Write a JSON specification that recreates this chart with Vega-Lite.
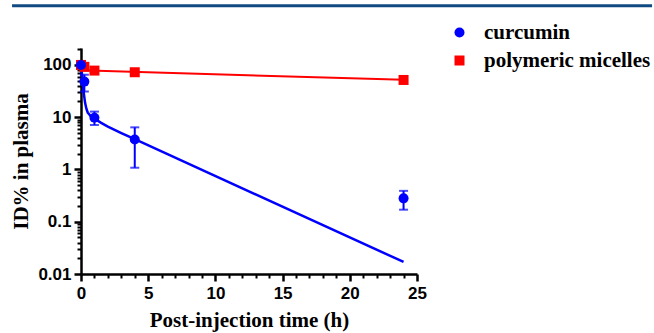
{
  "$schema": "https://vega.github.io/schema/vega-lite/v6.json",
  "width": 336,
  "height": 226,
  "autosize": "none",
  "padding": {"left": 81, "top": 48, "right": 237, "bottom": 59},
  "background": "white",
  "config": {"view": {"stroke": null}, "axis": {"grid": false}, "scale": {"continuousPadding": 0}},
  "datasets": {
    "header": [{"x1": -5.13, "x2": 42.49, "y": 1361}],
    "points": [
      {"t": 0, "v": 100, "series": "polymeric micelles"},
      {"t": 0.25, "v": 92, "series": "polymeric micelles"},
      {"t": 1, "v": 78, "series": "polymeric micelles"},
      {"t": 4, "v": 72.5, "series": "polymeric micelles"},
      {"t": 24, "v": 51.6, "series": "polymeric micelles"},
      {"t": 0, "v": 100, "series": "curcumin"},
      {"t": 0.25, "v": 48, "series": "curcumin"},
      {"t": 1, "v": 9.8, "series": "curcumin"},
      {"t": 4, "v": 3.75, "series": "curcumin"},
      {"t": 24, "v": 0.28, "series": "curcumin"}
    ],
    "errors": [
      {"t": 0.25, "lo": 31, "hi": 65},
      {"t": 1, "lo": 7.1, "hi": 12.8},
      {"t": 4, "lo": 1.08, "hi": 6.4},
      {"t": 24, "lo": 0.17, "hi": 0.39}
    ],
    "bluefit": [
      {"t": 0, "v": 100},
      {"t": 0.05, "v": 75},
      {"t": 0.1, "v": 55},
      {"t": 0.15, "v": 40},
      {"t": 0.2, "v": 30},
      {"t": 0.3, "v": 19},
      {"t": 0.4, "v": 14.5},
      {"t": 0.5, "v": 12.3},
      {"t": 0.75, "v": 10.3},
      {"t": 1, "v": 9.4},
      {"t": 1.5, "v": 7.8},
      {"t": 2, "v": 6.6},
      {"t": 3, "v": 4.97},
      {"t": 4, "v": 3.8},
      {"t": 24, "v": 0.017}
    ],
    "redfit": [
      {"t": 0, "v": 79},
      {"t": 24, "v": 52}
    ]
  },
  "layer": [
    {
      "data": {"name": "header"},
      "mark": {"type": "rule", "color": "#114a82", "strokeWidth": 3, "clip": false},
      "encoding": {
        "x": {"field": "x1", "type": "quantitative", "scale": {"domain": [0, 25], "padding": 0}, "axis": null},
        "x2": {"field": "x2"},
        "y": {"field": "y", "type": "quantitative", "scale": {"type": "log", "domain": [0.01, 211], "padding": 0}, "axis": null}
      }
    },
    {
      "data": {"name": "redfit"},
      "mark": {"type": "line", "color": "#ff0000", "strokeWidth": 2},
      "encoding": {
        "x": {"field": "t", "type": "quantitative", "scale": {"domain": [0, 25], "padding": 0}, "axis": null},
        "y": {"field": "v", "type": "quantitative", "scale": {"type": "log", "domain": [0.01, 211], "padding": 0}, "axis": null}
      }
    },
    {
      "data": {"name": "bluefit"},
      "mark": {"type": "line", "color": "#0000ff", "strokeWidth": 2.5, "interpolate": "linear"},
      "encoding": {
        "x": {"field": "t", "type": "quantitative", "scale": {"domain": [0, 25], "padding": 0},
          "axis": {"orient": "bottom", "values": [1,2,3,4,6,7,8,9,11,12,13,14,16,17,18,19,21,22,23,24], "labels": false, "domain": false, "tickSize": 4, "tickWidth": 2, "tickColor": "black", "title": null}},
        "y": {"field": "v", "type": "quantitative", "scale": {"type": "log", "domain": [0.01, 211], "padding": 0},
          "axis": {"orient": "left", "values": [0.02,0.03,0.04,0.05,0.06,0.07,0.08,0.09,0.2,0.3,0.4,0.5,0.6,0.7,0.8,0.9,2,3,4,5,6,7,8,9,20,30,40,50,60,70,80,90,200], "labels": false, "domain": false, "tickSize": 4, "tickWidth": 2, "tickColor": "black", "title": null}}
      }
    },
    {
      "data": {"name": "errors"},
      "mark": {"type": "rule", "color": "#0000ff", "strokeWidth": 2},
      "encoding": {
        "x": {"field": "t", "type": "quantitative", "scale": {"domain": [0, 25], "padding": 0}, "axis": null},
        "y": {"field": "lo", "type": "quantitative", "scale": {"type": "log", "domain": [0.01, 211], "padding": 0}, "axis": null},
        "y2": {"field": "hi"}
      }
    },
    {
      "data": {"name": "errors"},
      "mark": {"type": "tick", "color": "#0000ff", "orient": "horizontal", "size": 9, "thickness": 2},
      "encoding": {
        "x": {"field": "t", "type": "quantitative", "scale": {"domain": [0, 25], "padding": 0}, "axis": null},
        "y": {"field": "lo", "type": "quantitative", "scale": {"type": "log", "domain": [0.01, 211], "padding": 0}, "axis": null}
      }
    },
    {
      "data": {"name": "errors"},
      "mark": {"type": "tick", "color": "#0000ff", "orient": "horizontal", "size": 9, "thickness": 2},
      "encoding": {
        "x": {"field": "t", "type": "quantitative", "scale": {"domain": [0, 25], "padding": 0}, "axis": null},
        "y": {"field": "hi", "type": "quantitative", "scale": {"type": "log", "domain": [0.01, 211], "padding": 0}, "axis": null}
      }
    },
    {
      "data": {"name": "points"},
      "mark": {"type": "point", "filled": true, "opacity": 1, "size": 100},
      "encoding": {
        "x": {"field": "t", "type": "quantitative", "scale": {"domain": [0, 25], "padding": 0},
          "axis": {"orient": "bottom", "values": [0,5,10,15,20,25], "labelFlush": false, "domainWidth": 2.5, "domainColor": "black", "tickColor": "black", "tickWidth": 2.5, "tickSize": 7, "labelFont": "Liberation Sans", "labelFontWeight": "bold", "labelFontSize": 17, "labelColor": "black", "labelPadding": 4, "title": "Post-injection time (h)", "titleFont": "Liberation Serif", "titleFontSize": 21, "titleFontWeight": "bold", "titleColor": "black", "titlePadding": 8}},
        "y": {"field": "v", "type": "quantitative", "scale": {"type": "log", "domain": [0.01, 211], "padding": 0},
          "axis": {"orient": "left", "values": [0.01,0.1,1,10,100], "format": "~g", "labelFlush": false, "domainWidth": 2.5, "domainColor": "black", "tickColor": "black", "tickWidth": 2.5, "tickSize": 7, "labelFont": "Liberation Sans", "labelFontWeight": "bold", "labelFontSize": 17, "labelColor": "black", "labelPadding": 3, "title": "ID% in plasma", "titleFont": "Liberation Serif", "titleFontSize": 21, "titleFontWeight": "bold", "titleColor": "black", "titlePadding": 6}},
        "color": {"field": "series", "type": "nominal",
          "scale": {"domain": ["curcumin", "polymeric micelles"], "range": ["#0000ff", "#ff0000"]},
          "legend": {"title": null, "orient": "none", "legendX": 368, "legendY": -26, "padding": 0, "labelFont": "Liberation Serif", "labelFontWeight": "bold", "labelFontSize": 21, "labelColor": "black", "labelOffset": 14, "labelLimit": 0, "symbolSize": 100, "rowPadding": 6, "symbolStrokeWidth": 0}},
        "shape": {"field": "series", "type": "nominal",
          "scale": {"domain": ["curcumin", "polymeric micelles"], "range": ["circle", "square"]}},
        "order": {"field": "series", "sort": "descending"}
      }
    }
  ],
  "resolve": {"axis": {"x": "independent", "y": "independent"}}
}
